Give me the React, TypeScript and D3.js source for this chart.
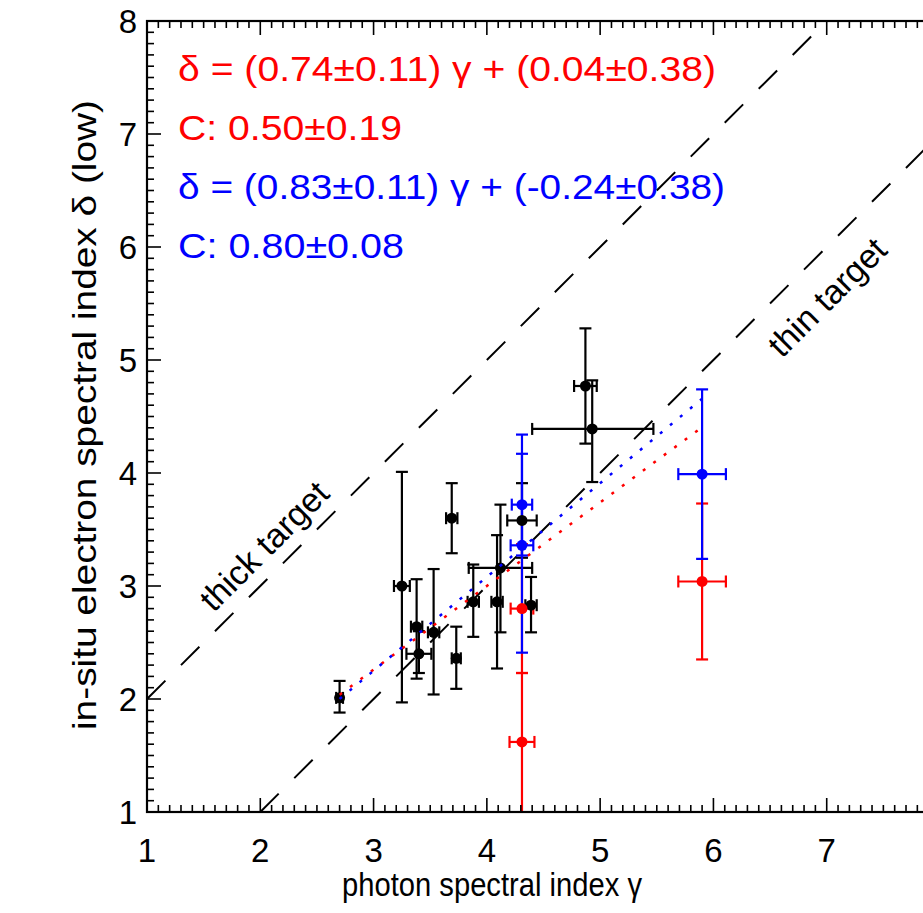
import React from "react";
import * as d3 from "d3";

// ---- data ----
// black points: gamma, gamma error, delta, delta error up, delta error down
const blackGamma = [2.70, 3.25, 3.38, 3.40, 3.53, 3.73, 3.69, 3.88, 4.09, 4.12, 4.31, 4.39, 4.87, 4.93];
const blackGammaErrLo = [0.03, 0.07, 0.05, 0.11, 0.05, 0.04, 0.05, 0.05, 0.05, 0.28, 0.13, 0.05, 0.10, 0.53];
const blackGammaErrHi = [0.03, 0.07, 0.05, 0.11, 0.05, 0.04, 0.05, 0.05, 0.05, 0.28, 0.13, 0.05, 0.10, 0.54];
const blackDelta = [2.01, 3.00, 2.64, 2.40, 2.59, 2.36, 3.60, 2.86, 2.86, 3.16, 3.58, 2.83, 4.77, 4.39];
const blackDeltaErrUp = [0.15, 1.01, 0.42, 0.20, 0.56, 0.28, 0.31, 0.33, 0.59, 0.56, 0.33, 0.25, 0.51, 0.43];
const blackDeltaErrDn = [0.13, 1.03, 0.46, 0.17, 0.55, 0.27, 0.31, 0.31, 0.59, 0.57, 0.33, 0.24, 0.51, 0.47];

const blueGamma = [4.31, 4.31, 5.90];
const blueGammaErr = [0.09, 0.10, 0.21];
const blueDelta = [3.72, 3.36, 3.99];
const blueDeltaErrUp = [0.45, 0.98, 0.75];
const blueDeltaErrDn = [0.45, 0.95, 0.75];

const redGamma = [4.31, 4.31, 5.90];
const redGammaErr = [0.10, 0.11, 0.21];
const redDelta = [2.80, 1.62, 3.04];
const redDeltaErrUp = [0.57, 0.61, 0.69];
const redDeltaErrDn = [0.57, 0.75, 0.69];

// fits: slope, intercept, gamma range
const redFit = [0.74, 0.04];
const blueFit = [0.83, -0.24];
const fitRange = [2.7, 5.9];

const xTicks = [1, 2, 3, 4, 5, 6, 7];
const yTicks = [1, 2, 3, 4, 5, 6, 7, 8];

const annotations = [
  "δ = (0.74±0.11) γ + (0.04±0.38)",
  "C: 0.50±0.19",
  "δ = (0.83±0.11) γ + (-0.24±0.38)",
  "C: 0.80±0.08",
];
const annotationColors = ["#ff0000", "#ff0000", "#0000ff", "#0000ff"];

const W = 923;
const H = 913;
const FONT = "'Liberation Sans', Arial, Helvetica, sans-serif";

export default function App() {
  const x = d3.scaleLinear().domain([1, 8]).range([147, 940]);
  const y = d3.scaleLinear().domain([1, 8]).range([812, 21]);
  const [x0, x1] = x.range();
  const [y0, y1] = y.range();

  const minorX = d3.range(10, 81).map((v) => v / 10);
  const minorY = d3.range(10, 81).map((v) => v / 10);

  const line = d3.line<[number, number]>().x((d) => x(d[0])).y((d) => y(d[1]));

  const cap = 6;
  const renderBars = (
    g: number[], gl: number[], gh: number[], dv: number[], du: number[], dd: number[], color: string, key: string
  ) =>
    g.map((gv, i) => {
      const cx = x(gv);
      const cy = y(dv[i]);
      const xl = x(gv - gl[i]);
      const xr = x(gv + gh[i]);
      const yt = y(dv[i] + du[i]);
      const yb = y(dv[i] - dd[i]);
      return (
        <g key={key + i} stroke={color} strokeWidth={2.2} fill="none">
          <line x1={cx} x2={cx} y1={yt} y2={yb} />
          <line x1={cx - cap} x2={cx + cap} y1={yt} y2={yt} />
          <line x1={cx - cap} x2={cx + cap} y1={yb} y2={yb} />
          <line x1={xl} x2={xr} y1={cy} y2={cy} />
          <line x1={xl} x2={xl} y1={cy - cap} y2={cy + cap} />
          <line x1={xr} x2={xr} y1={cy - cap} y2={cy + cap} />
        </g>
      );
    });
  const renderMarks = (g: number[], dv: number[], color: string, key: string) =>
    g.map((gv, i) => <circle key={key + i} cx={x(gv)} cy={y(dv[i])} r={5.5} fill={color} />);

  return (
    <svg
      width={W}
      height={H}
      style={{ position: "absolute", left: 0, top: 0, background: "#fff" }}
      fontFamily={FONT}
    >
      <defs>
        <clipPath id="plot">
          <rect x={x0} y={y1} width={x1 - x0} height={y0 - y1} />
        </clipPath>
      </defs>
      <rect x={0} y={0} width={W} height={H} fill="#fff" />

      <g clipPath="url(#plot)">
        {/* thick / thin target lines */}
        <path d={line([[1, 2], [7, 8]]) || ""} stroke="#000" strokeWidth={2} strokeDasharray="26,22" fill="none" />
        <path d={line([[2, 1], [8, 7]]) || ""} stroke="#000" strokeWidth={2} strokeDasharray="26,22" fill="none" />

        {renderBars(blackGamma, blackGammaErrLo, blackGammaErrHi, blackDelta, blackDeltaErrUp, blackDeltaErrDn, "#000", "kb")}
        {renderBars(redGamma, redGammaErr, redGammaErr, redDelta, redDeltaErrUp, redDeltaErrDn, "#ff0000", "rb")}
        {renderBars(blueGamma, blueGammaErr, blueGammaErr, blueDelta, blueDeltaErrUp, blueDeltaErrDn, "#0000ff", "bb")}
        {renderMarks(blackGamma, blackDelta, "#000", "km")}
        {renderMarks(blueGamma, blueDelta, "#0000ff", "bm")}
        {renderMarks(redGamma, redDelta, "#ff0000", "rm")}

        {/* fits */}
        <path
          d={line(fitRange.map((g) => [g, redFit[0] * g + redFit[1]] as [number, number])) || ""}
          stroke="#ff0000" strokeWidth={2.5} strokeDasharray="3,10" fill="none"
        />
        <path
          d={line(fitRange.map((g) => [g, blueFit[0] * g + blueFit[1]] as [number, number])) || ""}
          stroke="#0000ff" strokeWidth={2.5} strokeDasharray="3,10" fill="none"
        />
      </g>

      {/* frame */}
      <rect x={x0} y={y1} width={x1 - x0} height={y0 - y1} fill="none" stroke="#000" strokeWidth={2.2} />

      {/* ticks */}
      <g stroke="#000" strokeWidth={1.6}>
        {minorX.map((v) => {
          const major = Math.abs(v - Math.round(v)) < 1e-6;
          const len = major ? 14 : 7;
          return (
            <g key={"tx" + v}>
              <line x1={x(v)} x2={x(v)} y1={y0} y2={y0 - len} />
              <line x1={x(v)} x2={x(v)} y1={y1} y2={y1 + len} />
            </g>
          );
        })}
        {minorY.map((v) => {
          const major = Math.abs(v - Math.round(v)) < 1e-6;
          const len = major ? 14 : 7;
          return <line key={"ty" + v} x1={x0} x2={x0 + len} y1={y(v)} y2={y(v)} />;
        })}
      </g>

      {/* tick labels */}
      {xTicks.map((t) => (
        <text key={"xl" + t} x={x(t)} y={862} fontSize={33} textAnchor="middle" fill="#000">
          {t}
        </text>
      ))}
      {yTicks.map((t) => (
        <text key={"yl" + t} x={137} y={y(t) + 12} fontSize={33} textAnchor="end" fill="#000">
          {t}
        </text>
      ))}

      {/* axis titles */}
      <text x={492} y={896} fontSize={33} textAnchor="middle" fill="#000" textLength={300} lengthAdjust="spacingAndGlyphs">
        photon spectral index γ
      </text>
      <text
        transform="translate(96,415) rotate(-90)"
        fontSize={33}
        textAnchor="middle"
        fill="#000"
        textLength={630}
        lengthAdjust="spacingAndGlyphs"
      >
        in-situ electron spectral index δ (low)
      </text>

      {/* annotations */}
      {annotations.map((a, i) => (
        <text
          key={"an" + i}
          x={178}
          y={[81, 140, 199, 258][i]}
          fontSize={35}
          fill={annotationColors[i]}
          textLength={[538, 224, 547, 226][i]}
          lengthAdjust="spacingAndGlyphs"
        >
          {a}
        </text>
      ))}

      {/* target labels */}
      <text transform="translate(264,546) rotate(-45)" fontSize={34} textAnchor="middle" dominantBaseline="central" fill="#000">
        thick target
      </text>
      <text transform="translate(827,297) rotate(-45)" fontSize={34} textAnchor="middle" dominantBaseline="central" fill="#000">
        thin target
      </text>
    </svg>
  );
}
